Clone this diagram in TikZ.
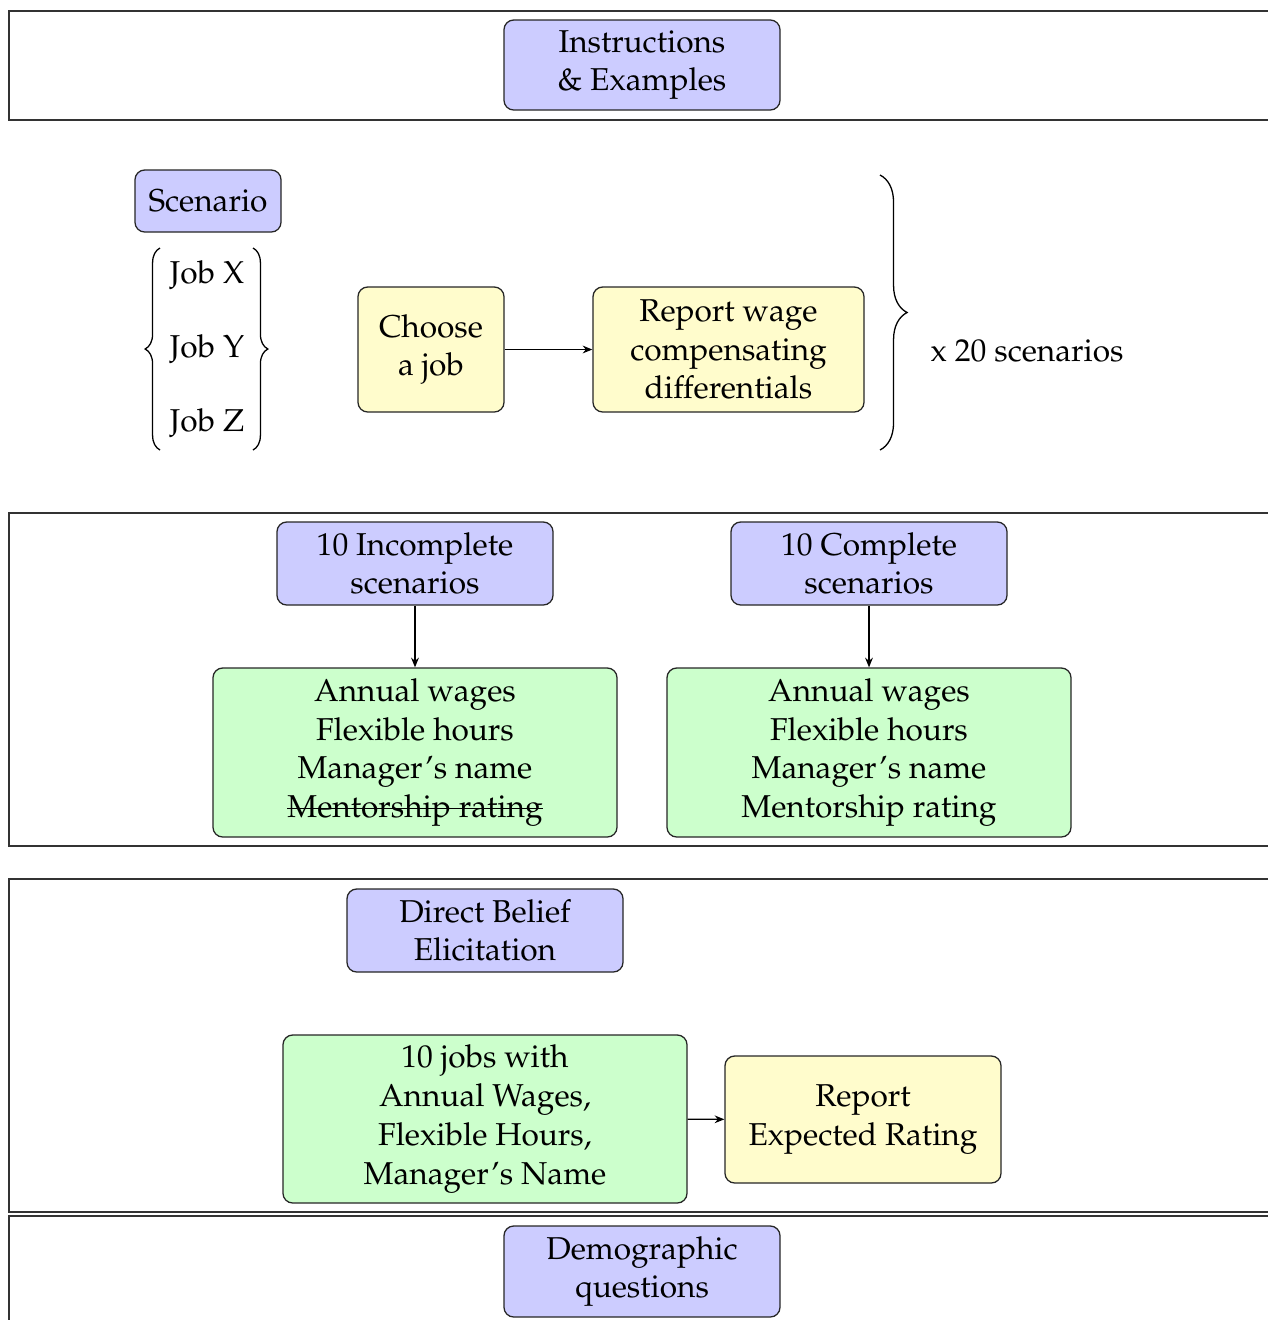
\documentclass[tikz,border=0pt]{standalone}
\usepackage[T1]{fontenc}
\usepackage{mathpazo}
\usetikzlibrary{arrows.meta,decorations.pathreplacing}
\newcommand\pxu{0.31pt}
\newcommand\mystrike[1]{\mbox{\sbox0{#1}\rlap{\rule[0.55ex]{\wd0}{0.4pt}}\usebox0}}
\begin{document}
\begin{tikzpicture}[x=0.31pt,y=-0.31pt,
  font=\fontsize{9.8}{12}\selectfont,
  basebox/.style={draw=black!85, rounded corners=3pt, align=center, inner sep=0pt, line width=0.4pt},
  bluebox/.style={basebox, fill=blue!20},
  yelbox/.style={basebox, fill=yellow!20},
  grnbox/.style={basebox, fill=green!20},
  frame/.style={draw=black!80, line width=0.55pt},
  bracestyle/.style={decorate, line width=0.4pt},
  arr/.style={-{Stealth[length=3pt,width=2.4pt]}, line width=0.4pt}]
\useasboundingbox (0,0) rectangle (1268,1320);

% frames
\draw[frame] (9,11) rectangle (1300,120);
\draw[frame] (9,513) rectangle (1300,846);
\draw[frame] (9,879) rectangle (1300,1212);
\draw[frame] (9,1216) rectangle (1300,1350);

% section 1
\node[bluebox, minimum width=276*\pxu, minimum height=90*\pxu] (instr) at (642,65) {Instructions\\\& Examples};

% section 2
\node[bluebox, minimum width=146*\pxu, minimum height=62*\pxu] (scen) at (208,201) {Scenario};
\node (jx) at (207,275) {Job X};
\node (jy) at (207,349) {Job Y};
\node (jz) at (207,423) {Job Z};
\coordinate (lbb) at (160,450);
\coordinate (lbt) at (160,248);
\coordinate (rbt) at (253,248);
\coordinate (rbb) at (253,450);
\draw[bracestyle, decoration={brace, amplitude=4.6pt}] (lbb) -- (lbt);
\draw[bracestyle, decoration={brace, amplitude=4.6pt}] (rbt) -- (rbb);
\node[yelbox, minimum width=146*\pxu, minimum height=125*\pxu] (choose) at (431,349.5) {Choose\\a job};
\node[yelbox, minimum width=271*\pxu, minimum height=125*\pxu] (report) at (728.5,349.5) {Report wage\\compensating\\differentials};
\draw[arr] (choose) -- (report);
\coordinate (btop) at (880,175);
\coordinate (bbot) at (880,450);
\draw[bracestyle, decoration={brace, amplitude=8.4pt}] (btop) -- (bbot);
\node[anchor=west, inner sep=0pt] (times) at (930,351) {x 20 scenarios};

% section 3
\node[bluebox, minimum width=276*\pxu, minimum height=83*\pxu] (inc) at (415,563.5) {10 Incomplete\\scenarios};
\node[bluebox, minimum width=276*\pxu, minimum height=83*\pxu] (comp) at (869,563.5) {10 Complete\\scenarios};
\node[grnbox, minimum width=404*\pxu, minimum height=169*\pxu] (incl) at (415,752.5) {Annual wages\\Flexible hours\\Manager's name\\\mystrike{Mentorship rating}};
\node[grnbox, minimum width=404*\pxu, minimum height=169*\pxu] (compl) at (869,752.5) {Annual wages\\Flexible hours\\Manager's name\\Mentorship rating};
\draw[arr] (inc) -- (incl);
\draw[arr] (comp) -- (compl);

% section 4
\node[bluebox, minimum width=276*\pxu, minimum height=83*\pxu] (dbe) at (485,930.5) {Direct Belief\\Elicitation};
\node[grnbox, minimum width=404*\pxu, minimum height=168*\pxu] (tenjobs) at (485,1119) {10 jobs with\\Annual Wages,\\Flexible Hours,\\Manager's Name};
\node[yelbox, minimum width=276*\pxu, minimum height=127*\pxu] (rep2) at (863,1119.5) {Report\\Expected Rating};
\draw[arr] (tenjobs) -- (rep2);

% section 5
\node[bluebox, minimum width=276*\pxu, minimum height=91*\pxu] (demo) at (642,1271.5) {Demographic\\questions};
\end{tikzpicture}
\end{document}
